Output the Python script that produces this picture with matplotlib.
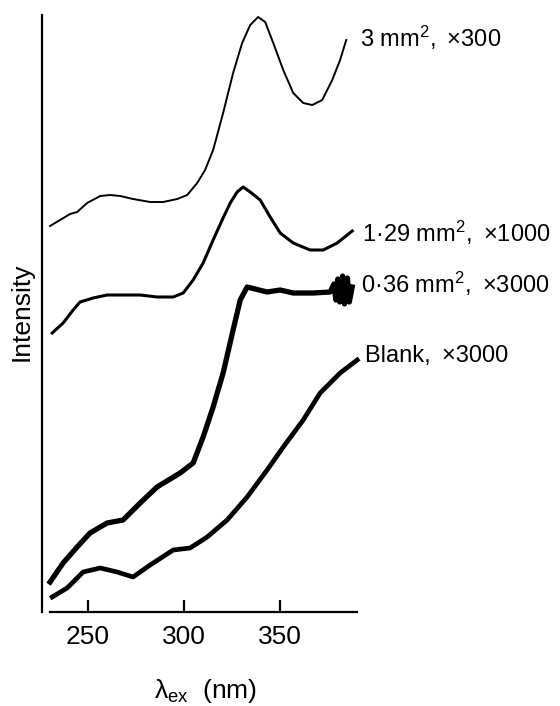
import numpy as np
import matplotlib
matplotlib.use("Agg")
import matplotlib.pyplot as plt

plt.rcParams['font.family'] = ['Liberation Sans', 'DejaVu Sans']
plt.rcParams['mathtext.fontset'] = 'custom'
plt.rcParams['mathtext.rm'] = 'Liberation Sans'
plt.rcParams['mathtext.it'] = 'Liberation Sans:italic'

# excitation wavelength (nm) and intensity (arb. units)
wl_3mm = [230.2, 235.4, 240.6, 244.3, 249.5, 256.3, 261.5, 266.7, 273.4, 282.3,
          289.1, 296.4, 301.6, 306.8, 310.9, 315.1, 320.3, 325.5, 330.2, 334.4,
          338.5, 342.2, 346.4, 351.6, 356.8, 362.0, 366.7, 371.9, 377.1, 381.2, 384.4]
int_3mm = [386, 392, 398, 400, 409, 416, 417, 416, 413, 410,
           410, 413, 417, 429, 442, 462, 499, 539, 569, 587,
           595, 590, 569, 542, 519, 509, 507, 512, 532, 552, 572]

wl_129 = [231.3, 237.0, 242.2, 245.8, 252.6, 259.9, 270.3, 277.1, 285.9, 294.3,
          299.5, 304.7, 309.9, 315.1, 319.8, 324.0, 327.6, 330.7, 334.4, 339.6,
          344.8, 350.0, 356.8, 365.6, 372.4, 379.7, 387.5]
int_129 = [279, 289, 302, 310, 314, 317, 317, 317, 315, 315,
           319, 332, 349, 372, 392, 409, 420, 425, 420, 412,
           395, 379, 369, 362, 362, 369, 381]

wl_036 = [230.2, 237.0, 244.3, 251.0, 259.9, 268.2, 277.1, 285.9, 297.9, 304.7,
          309.9, 315.1, 320.3, 325.5, 329.2, 332.8, 343.2, 350.0, 356.8, 367.2,
          376.0, 378.0, 379.0, 380.0, 381.0, 382.5, 383.5, 385.0, 386.0, 387.5]
int_036 = [30, 49, 65, 79, 89, 92, 109, 125, 139, 149,
           175, 205, 239, 282, 312, 325, 320, 322, 319, 319,
           320, 328, 312, 333, 310, 336, 308, 334, 310, 325]

wl_blank = [231.3, 239.1, 247.4, 256.3, 265.1, 273.4, 282.3, 294.3, 303.1, 312.0,
            322.4, 332.8, 343.2, 351.6, 362.0, 370.8, 381.2, 390.1]
int_blank = [15, 24, 40, 44, 40, 35, 47, 62, 64, 75,
             92, 115, 142, 165, 192, 219, 239, 252]

labels = ["3 mm$^2$, \u2009\u00d7300", "1\u00b729 mm$^2$, \u2009\u00d71000",
          "0\u00b736 mm$^2$, \u2009\u00d73000", "Blank, \u2009\u00d73000"]
label_pos = [(391.7, 565), (392.6, 370), (392.3, 319), (394.3, 250)]

fig = plt.figure(figsize=(5.6, 7.06), dpi=100)
ax = fig.add_axes([42/560, 94/706, 315/560, 597/706])

ax.plot(wl_3mm, int_3mm, color='black', lw=1.4, clip_on=False)
ax.plot(wl_129, int_129, color='black', lw=2.2, clip_on=False)
ax.plot(wl_036, int_036, color='black', lw=3.8, clip_on=False)
ax.plot(wl_blank, int_blank, color='black', lw=3.4, clip_on=False)

for txt, (x, y) in zip(labels, label_pos):
    ax.text(x, y, txt, fontsize=17, ha='left', va='baseline')

ax.set_xlim(226, 390)
ax.set_ylim(0, 597)
ax.spines['top'].set_visible(False)
ax.spines['right'].set_visible(False)
ax.spines['left'].set_linewidth(1.6)
ax.spines['bottom'].set_linewidth(1.6)
ax.spines['bottom'].set_bounds(230, 390)
ax.set_yticks([])
ax.set_xticks([250, 300, 350])
ax.tick_params(axis='x', direction='in', length=9, width=1.6, pad=9, labelsize=19)

fig.text(205/560, 8/706, "\u03bb$_{\\rm ex}$  (nm)", fontsize=19, ha='center', va='baseline')
fig.text(22/560, 394/706, "Intensity", fontsize=19, rotation=90, ha='center', va='center')

fig.savefig("out.png", dpi=100)
